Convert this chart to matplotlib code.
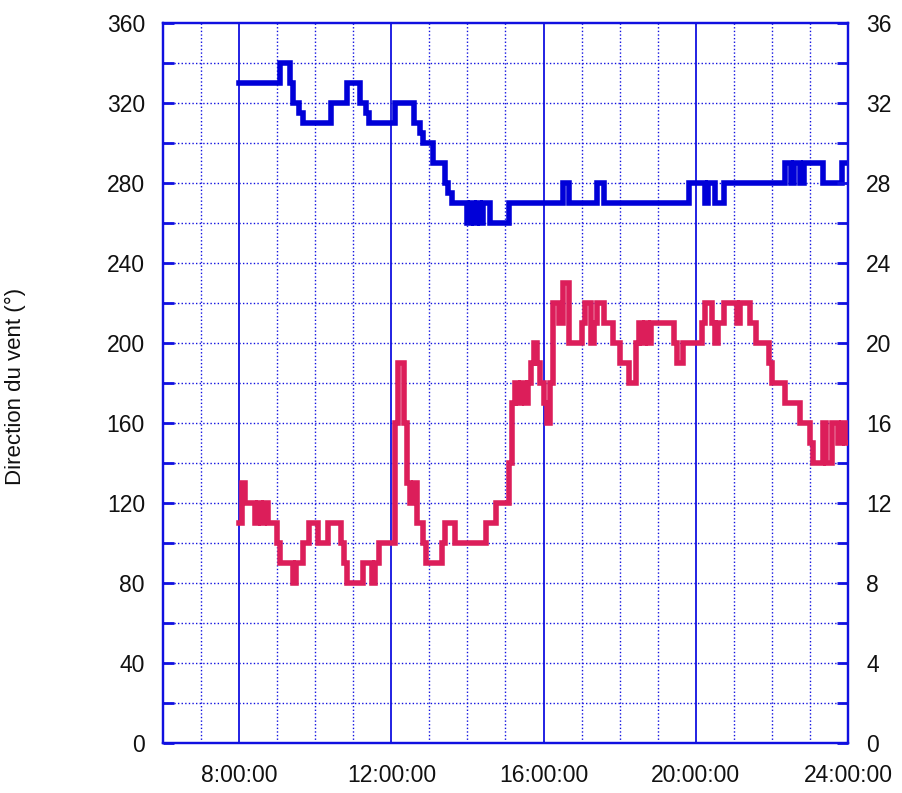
import numpy as np
import matplotlib
matplotlib.use("Agg")
import matplotlib.pyplot as plt
from matplotlib.ticker import MultipleLocator, FixedLocator, FuncFormatter

plt.rcParams['font.family'] = ['Liberation Sans', 'DejaVu Sans']

# samples every 5 minutes from 8:00 to 24:00 (one row per hour)
hours = np.arange(8 * 12, 24 * 12 + 1) / 12.0

direction = [
    330, 330, 330, 330, 330, 330, 330, 330, 330, 330, 330, 330,   # 8h
    330, 340, 340, 340, 330, 320, 320, 315, 310, 310, 310, 310,   # 9h
    310, 310, 310, 310, 310, 320, 320, 320, 320, 320, 330, 330,   # 10h
    330, 330, 320, 320, 315, 310, 310, 310, 310, 310, 310, 310,   # 11h
    310, 320, 320, 320, 320, 320, 320, 310, 310, 305, 300, 300,   # 12h
    300, 290, 290, 290, 290, 280, 275, 270, 270, 270, 270, 270,   # 13h
    260, 270, 260, 270, 260, 270, 270, 260, 260, 260, 260, 260,   # 14h
    260, 270, 270, 270, 270, 270, 270, 270, 270, 270, 270, 270,   # 15h
    270, 270, 270, 270, 270, 270, 280, 280, 270, 270, 270, 270,   # 16h
    270, 270, 270, 270, 270, 280, 280, 270, 270, 270, 270, 270,   # 17h
    270, 270, 270, 270, 270, 270, 270, 270, 270, 270, 270, 270,   # 18h
    270, 270, 270, 270, 270, 270, 270, 270, 270, 270, 280, 280,   # 19h
    280, 280, 280, 270, 280, 280, 270, 270, 270, 280, 280, 280,   # 20h
    280, 280, 280, 280, 280, 280, 280, 280, 280, 280, 280, 280,   # 21h
    280, 280, 280, 280, 290, 290, 280, 290, 290, 280, 290, 290,   # 22h
    290, 290, 290, 290, 280, 280, 280, 280, 280, 280, 290, 290,   # 23h
    290,
]

speed = [
    11, 13, 12, 12, 12, 11, 12, 11, 12, 11, 11, 11,   # 8h
    10, 9, 9, 9, 9, 8, 9, 9, 10, 10, 11, 11,          # 9h
    11, 10, 10, 10, 11, 11, 11, 11, 10, 9, 8, 8,      # 10h
    8, 8, 8, 9, 9, 9, 8, 9, 10, 10, 10, 10,           # 11h
    10, 16, 19, 19, 16, 13, 12, 13, 11, 11, 10, 9,    # 12h
    9, 9, 9, 9, 10, 11, 11, 11, 10, 10, 10, 10,       # 13h
    10, 10, 10, 10, 10, 10, 11, 11, 11, 12, 12, 12,   # 14h
    12, 14, 17, 18, 17, 18, 17, 18, 19, 20, 19, 18,   # 15h
    17, 16, 18, 22, 22, 21, 23, 23, 20, 20, 20, 20,   # 16h
    21, 22, 22, 20, 21, 22, 22, 21, 21, 21, 20, 20,   # 17h
    19, 19, 19, 18, 18, 20, 21, 20, 21, 20, 21, 21,   # 18h
    21, 21, 21, 21, 21, 20, 19, 19, 20, 20, 20, 20,   # 19h
    20, 20, 21, 22, 22, 21, 20, 21, 21, 22, 22, 22,   # 20h
    22, 21, 22, 22, 22, 21, 21, 20, 20, 20, 20, 19,   # 21h
    18, 18, 18, 18, 17, 17, 17, 17, 17, 16, 16, 16,   # 22h
    15, 14, 14, 14, 16, 14, 14, 16, 16, 15, 16, 15,   # 23h
    15,
]

xtick_hours = [8, 12, 16, 20, 24]
xtick_labels = ["8:00:00", "12:00:00", "16:00:00", "20:00:00", "24:00:00"]

blue = "#0000d8"
red = "#dc1e5a"
frame = "#1010e0"

fig = plt.figure(figsize=(9.03, 7.93), dpi=100)
ax = fig.add_axes([163 / 903, 50 / 793, 685 / 903, 720 / 793])
ax2 = ax.twinx()

ax.set_xlim(6, 24)
ax.set_ylim(0, 360)
ax2.set_ylim(0, 36)

# grid: dotted every hour / every 20, solid at the labelled hours
ax.set_axisbelow(True)
for h in range(7, 24):
    if h in xtick_hours:
        ax.axvline(h, color=frame, lw=1.3, zorder=0)
    else:
        ax.axvline(h, color=frame, lw=1.0, ls=(0, (1, 1.6)), zorder=0)
for v in range(20, 360, 20):
    ax.axhline(v, color=frame, lw=1.0, ls=(0, (1, 1.6)), zorder=0)

ax.plot(hours, direction, color=blue, lw=4.0, drawstyle="steps-post",
        solid_joinstyle="miter", zorder=3)
ax2.plot(hours, speed, color=red, lw=4.0, drawstyle="steps-post",
         solid_joinstyle="miter", zorder=3)

ax.xaxis.set_major_locator(FixedLocator(xtick_hours))
ax.set_xticklabels(xtick_labels)
ax.tick_params(axis="x", length=0, pad=15, labelsize=16.5, labelcolor="#111111")

ax.yaxis.set_major_locator(MultipleLocator(20))
ax.yaxis.set_major_formatter(FuncFormatter(lambda v, p: "%d" % v if v % 40 == 0 else ""))
ax.tick_params(axis="y", direction="in", length=8, width=2, color=frame,
               pad=13, labelsize=16.5, labelcolor="#111111")

ax2.yaxis.set_major_locator(MultipleLocator(2))
ax2.yaxis.set_major_formatter(FuncFormatter(lambda v, p: "%d" % v if v % 4 == 0 else ""))
ax2.tick_params(axis="y", direction="in", length=8, width=2, color=frame,
                pad=13, labelsize=16.5, labelcolor="#111111")

for a in (ax, ax2):
    for s in a.spines.values():
        s.set_color(frame)
        s.set_linewidth(1.6)

fig.text(15 / 903, 0.5 + 10 / 793, "Direction du vent (°)", rotation=90,
         ha="center", va="center", fontsize=16, color="#111111")

fig.savefig("out.png", dpi=100)
